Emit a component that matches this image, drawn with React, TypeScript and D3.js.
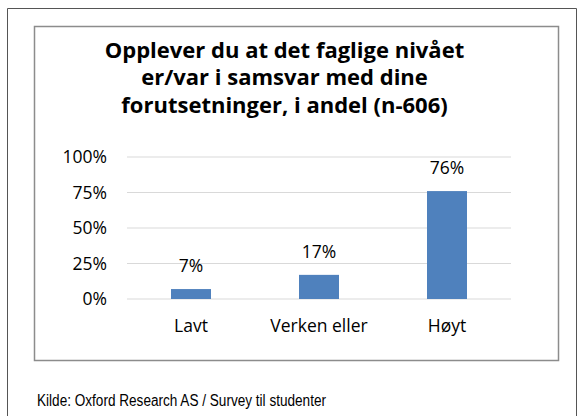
import React from "react";
import * as d3 from "d3";

const categories = ["Lavt", "Verken eller", "Høyt"];
const values = [7, 17, 76];
const valueLabels = ["7%", "17%", "76%"];
const yTicks = [0, 25, 50, 75, 100];
const titleLines = [
  "Opplever du at det faglige nivået",
  "er/var i samsvar med dine",
  "forutsetninger, i andel (n-606)",
];
const source = "Kilde: Oxford Research AS / Survey til studenter";

export default function App() {
  const W = 579, H = 416;
  const plot = { left: 127, right: 511, top: 157, bottom: 299 };
  const x = d3.scaleBand<string>().domain(categories).range([plot.left, plot.right]).paddingInner(0.6875).paddingOuter(0.34375);
  const y = d3.scaleLinear().domain([0, 100]).range([plot.bottom, plot.top]);
  const font = "'Open Sans', sans-serif";
  return (
    <svg width={W} height={H} style={{ position: "absolute", left: 0, top: 0, background: "#fff" }}>
      <rect x={0} y={0} width={W} height={H} fill="#fff" />
      {/* outer frame */}
      <path d={`M7.5,${H + 2} V8.5 H576.5 V${H + 2}`} fill="none" stroke="#555" strokeWidth={1} />
      {/* chart box */}
      <rect x={34.5} y={26.5} width={524} height={334} fill="#fff" stroke="#8c8c8c" strokeWidth={1.5} />
      {titleLines.map((t, i) => (
        <text key={i} x={284.5} y={57.5 + i * 27.5} textAnchor="middle" fontFamily={font} fontWeight="bold" fontSize={22} fill="#000">
          {t}
        </text>
      ))}
      {yTicks.map((t) => (
        <g key={t}>
          <line x1={plot.left} x2={plot.right} y1={y(t)} y2={y(t)} stroke="#d9d9d9" strokeWidth={1.2} />
          <text x={107} y={y(t) + 6} textAnchor="end" fontFamily={font} fontSize={17.5} fill="#000">
            {t}%
          </text>
        </g>
      ))}
      {categories.map((c, i) => (
        <g key={c}>
          <rect x={x(c)} y={y(values[i])} width={x.bandwidth()} height={y(0) - y(values[i])} fill="#4f81bd" />
          <text x={(x(c) as number) + x.bandwidth() / 2} y={y(values[i]) - 17} textAnchor="middle" fontFamily={font} fontSize={17.5} fill="#000">
            {valueLabels[i]}
          </text>
          <text x={(x(c) as number) + x.bandwidth() / 2} y={332} textAnchor="middle" fontFamily={font} fontSize={17.5} fill="#000">
            {c}
          </text>
        </g>
      ))}
      <text x={37} y={406} fontFamily="'Liberation Sans Narrow', 'Arial Narrow', 'Liberation Sans', sans-serif" fontSize={16} textLength={289} lengthAdjust="spacingAndGlyphs" fill="#000">
        {source}
      </text>
    </svg>
  );
}
